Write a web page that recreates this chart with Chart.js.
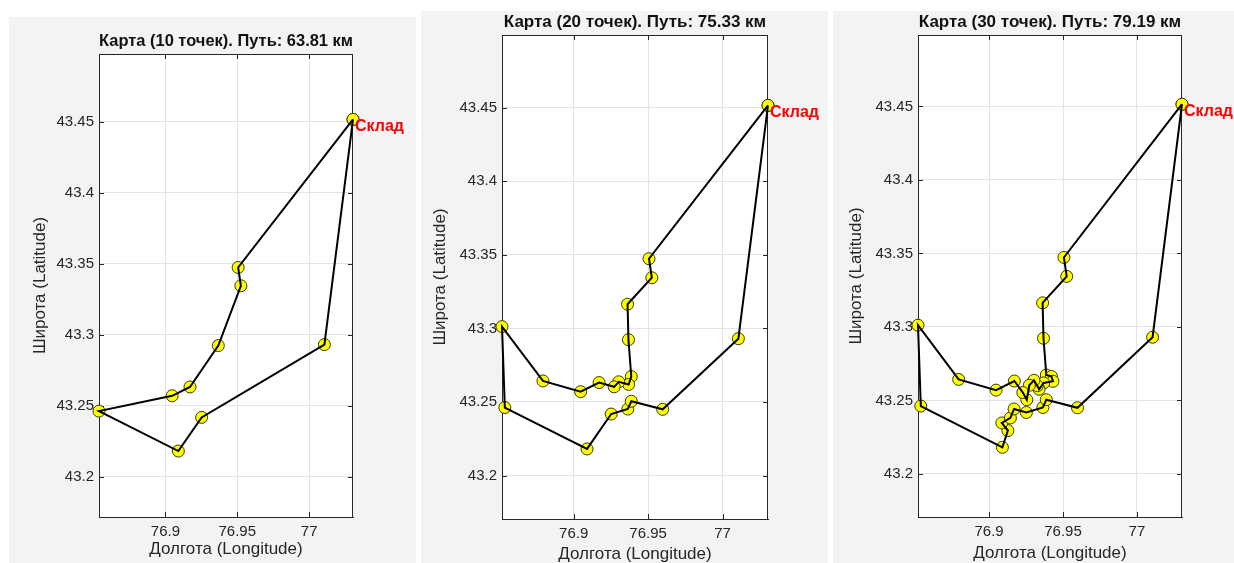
<!DOCTYPE html>
<html>
<head>
<meta charset="utf-8">
<script src="https://cdn.jsdelivr.net/npm/chart.js@4.4.1/dist/chart.umd.min.js"></script>
<style>
body{margin:0;background:#fff;width:1234px;height:563px;overflow:hidden;position:relative}
.panel{position:absolute;background:#f3f3f3}
canvas{display:block}
</style>
</head>
<body>
<div class="panel" style="left:9px;top:17px;width:407px;height:546px"><canvas id="map10" width="407" height="546"></canvas></div>
<div class="panel" style="left:421px;top:11px;width:407px;height:552px"><canvas id="map20" width="407" height="552"></canvas></div>
<div class="panel" style="left:833px;top:11px;width:401px;height:552px"><canvas id="map30" width="401" height="552"></canvas></div>
<script>
// маршруты: первая и последняя точка - склад
var route10Lon = [77.0305, 76.9506, 76.9525, 76.9368, 76.9171, 76.9047, 76.8538, 76.9090, 76.9252, 77.0106, 77.0305];
var route10Lat = [43.4515, 43.3473, 43.3344, 43.2923, 43.2632, 43.2570, 43.2462, 43.2181, 43.2418, 43.2930, 43.4515];

var route20Lon = [77.0305, 76.9506, 76.9525, 76.9362, 76.9368, 76.9387, 76.9369, 76.9303, 76.9272, 76.9171, 76.9047,
                  76.8794, 76.8519, 76.8538, 76.9090, 76.9252, 76.9364, 76.9387, 76.9598, 77.0106, 77.0305];
var route20Lat = [43.4515, 43.3473, 43.3344, 43.3164, 43.2923, 43.2673, 43.2619, 43.2637, 43.2603, 43.2632, 43.2570,
                  43.2643, 43.3012, 43.2462, 43.2181, 43.2418, 43.2452, 43.2505, 43.2450, 43.2930, 43.4515];

var route30Lon = [77.0305, 76.9506, 76.9525, 76.9362, 76.9368, 76.9387, 76.9422, 76.9432, 76.9369, 76.9338, 76.9326,
                  76.9303, 76.9272, 76.9255, 76.9228, 76.9171, 76.9047, 76.8794, 76.8519, 76.8538, 76.9090, 76.9127,
                  76.9086, 76.9144, 76.9169, 76.9252, 76.9364, 76.9387, 76.9598, 77.0106, 77.0305];
var route30Lat = [43.4515, 43.3473, 43.3344, 43.3164, 43.2923, 43.2673, 43.2663, 43.2630, 43.2619, 43.2576, 43.2600,
                  43.2637, 43.2603, 43.2505, 43.2554, 43.2632, 43.2570, 43.2643, 43.3012, 43.2462, 43.2181, 43.2295,
                  43.2347, 43.2381, 43.2442, 43.2418, 43.2452, 43.2505, 43.2450, 43.2930, 43.4515];

var pointCounts = [10, 20, 30];
var pathKm = [63.81, 75.33, 79.19];
var depotName = 'Склад';

var xTickVals = [76.9, 76.95, 77];
var xTickLabels = ['76.9', '76.95', '77'];
var yTickVals = [43.2, 43.25, 43.3, 43.35, 43.4, 43.45];
var yTickLabels = ['43.2', '43.25', '43.3', '43.35', '43.4', '43.45'];

var FONT = "'Liberation Sans', Arial, sans-serif";
var AX = '#262626';

// рамка, засечки внутрь и подпись склада
var mapPlugin = {
  id: 'mapBox',
  beforeDraw: function(chart){
    var a = chart.chartArea, c = chart.ctx;
    c.save();
    c.fillStyle = '#fff';
    c.fillRect(a.left, a.top, a.right - a.left, a.bottom - a.top);
    c.restore();
  },
  beforeDatasetsDraw: function(chart){
    var a = chart.chartArea, c = chart.ctx, sx = chart.scales.x, sy = chart.scales.y;
    c.save();
    c.strokeStyle = AX;
    c.lineWidth = 1;
    c.beginPath();
    c.moveTo(a.left, a.top + 0.5); c.lineTo(a.right, a.top + 0.5);
    c.moveTo(a.right - 0.5, a.top); c.lineTo(a.right - 0.5, a.bottom);
    xTickVals.forEach(function(v){
      var p = Math.round(sx.getPixelForValue(v)) + 0.5;
      c.moveTo(p, a.bottom); c.lineTo(p, a.bottom - 5);
      c.moveTo(p, a.top); c.lineTo(p, a.top + 5);
    });
    yTickVals.forEach(function(v){
      var p = Math.round(sy.getPixelForValue(v)) + 0.5;
      c.moveTo(a.left, p); c.lineTo(a.left + 5, p);
      c.moveTo(a.right, p); c.lineTo(a.right - 5, p);
    });
    c.stroke();
    c.restore();
  },
  afterDatasetsDraw: function(chart){
    var d = chart.data.datasets[0].data[0];
    var c = chart.ctx;
    c.save();
    c.fillStyle = '#ff0000';
    c.font = 'bold 16px ' + FONT;
    c.textBaseline = 'middle';
    c.fillText(depotName, chart.scales.x.getPixelForValue(d.x) + 2, chart.scales.y.getPixelForValue(d.y) + 7);
    c.restore();
  }
};

function drawMap(id, lon, lat, n, km, xLim, yLim, lay){
  var pts = lon.map(function(x, i){ return {x: x, y: lat[i]}; });
  new Chart(document.getElementById(id), {
    type: 'scatter',
    data: {
      datasets: [
        { type: 'line', data: pts, borderColor: '#000', borderWidth: 2, pointRadius: 0,
          fill: false, tension: 0, clip: false, order: 0 },
        { data: pts, backgroundColor: '#ffff00', borderColor: '#3a3a00', borderWidth: 1,
          pointRadius: 6, clip: false, order: 1 }
      ]
    },
    options: {
      responsive: false,
      animation: false,
      layout: { padding: { right: lay.right } },
      plugins: {
        legend: { display: false },
        tooltip: { enabled: false },
        title: {
          display: true, fullSize: false, color: '#111',
          text: 'Карта (' + n + ' точек). Путь: ' + km.toFixed(2) + ' км',
          font: { family: FONT, size: 17, weight: 'bold', lineHeight: 1 },
          padding: { top: lay.tTop - 0.5, bottom: lay.tBottom - 0.5 }
        }
      },
      scales: {
        x: {
          type: 'linear', min: xLim[0], max: xLim[1],
          afterBuildTicks: function(s){ s.ticks = xTickVals.map(function(v){ return {value: v}; }); },
          afterFit: function(s){ s.height = lay.xh; },
          grid: { color: '#e4e4e4', drawTicks: false },
          border: { color: AX },
          ticks: { color: AX, padding: 6, font: { family: FONT, size: 15 },
                   callback: function(v, i){ return xTickLabels[i]; } },
          title: { display: true, text: 'Долгота (Longitude)', color: AX,
                   font: { family: FONT, size: 17, lineHeight: 1 }, padding: { top: 0, bottom: lay.xt - 0.5 } }
        },
        y: {
          type: 'linear', min: yLim[0], max: yLim[1],
          afterBuildTicks: function(s){ s.ticks = yTickVals.map(function(v){ return {value: v}; }); },
          afterFit: function(s){ s.width = lay.yw; },
          grid: { color: '#e4e4e4', drawTicks: false },
          border: { color: AX },
          ticks: { color: AX, padding: 5, font: { family: FONT, size: 15 },
                   callback: function(v, i){ return yTickLabels[i]; } },
          title: { display: true, text: 'Широта (Latitude)', color: AX,
                   font: { family: FONT, size: 17, lineHeight: 1 }, padding: { top: lay.yt - 0.5, bottom: 0 } }
        }
      }
    },
    plugins: [mapPlugin]
  });
}

drawMap('map10', route10Lon, route10Lat, pointCounts[0], pathKm[0], [76.8538, 77.0305], [43.1717, 43.4975],
        { tTop: 16.3, tBottom: 4.7, yw: 90, xh: 46, right: 63, yt: 23, xt: 5.6 });
drawMap('map20', route20Lon, route20Lat, pointCounts[1], pathKm[1], [76.8519, 77.0305], [43.1705, 43.4993],
        { tTop: 3.3, tBottom: 4.7, yw: 81, xh: 44, right: 60, yt: 11, xt: 0.3 });
drawMap('map30', route30Lon, route30Lat, pointCounts[2], pathKm[2], [76.8519, 77.0305], [43.1707, 43.4986],
        { tTop: 3.3, tBottom: 4.7, yw: 85, xh: 46, right: 52, yt: 15.7, xt: 2 });
</script>
</body>
</html>
